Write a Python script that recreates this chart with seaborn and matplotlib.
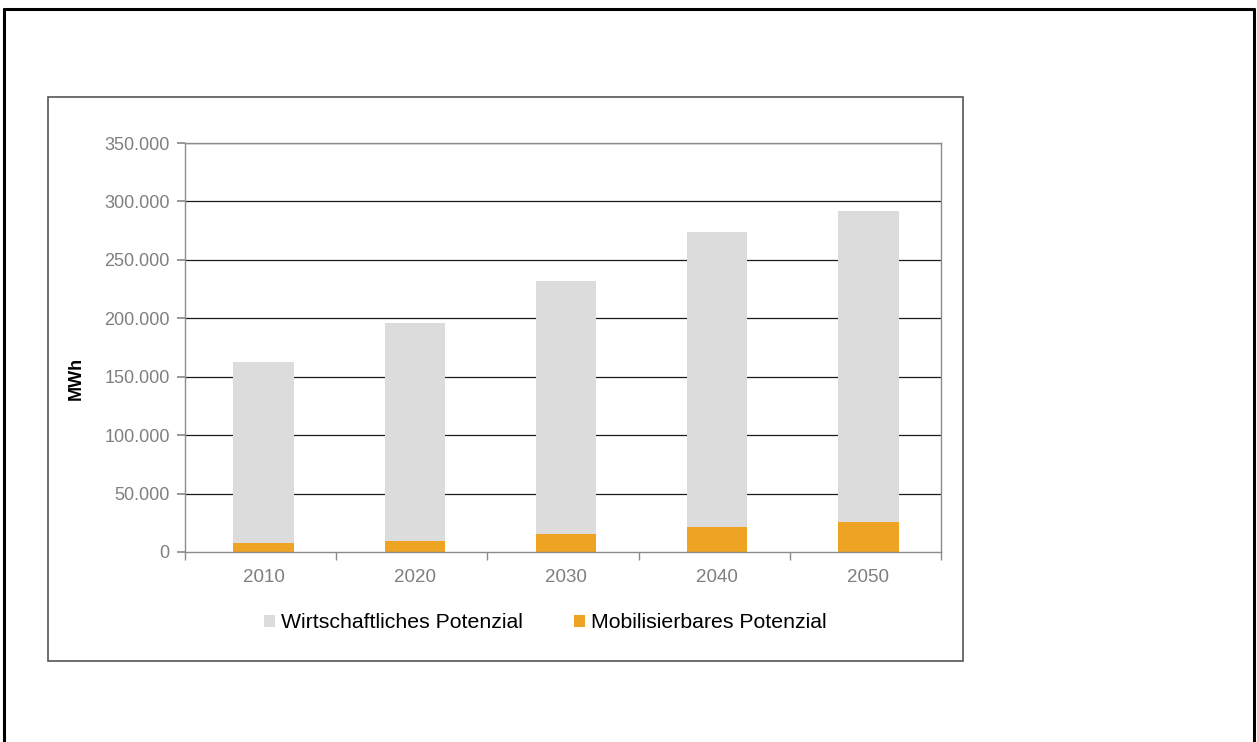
import matplotlib
matplotlib.use("Agg")
import matplotlib.pyplot as plt
from matplotlib.patches import Patch, Rectangle
from matplotlib.lines import Line2D
from matplotlib.ticker import FuncFormatter, MultipleLocator
import seaborn as sns

years = ["2010", "2020", "2030", "2040", "2050"]
wirtschaftlich = [163000, 196000, 232000, 274000, 292000]
mobilisierbar = [8000, 9700, 15700, 21400, 25700]
series_names = ["Wirtschaftliches Potenzial", "Mobilisierbares Potenzial"]

grey = "#dcdcdc"
orange = "#eea322"

sns.set_theme(style="white")
plt.rcParams["font.family"] = ["Liberation Sans", "DejaVu Sans"]

fig = plt.figure(figsize=(12.57, 7.42), dpi=100)
ax = fig.add_axes([185 / 1257, 1 - 552 / 742, (941 - 185) / 1257, (552 - 143) / 742])

sns.barplot(x=years, y=wirtschaftlich, color=grey, width=0.4, ax=ax, zorder=3,
            saturation=1, linewidth=0, edgecolor="none")
sns.barplot(x=years, y=mobilisierbar, color=orange, width=0.4, ax=ax, zorder=4,
            saturation=1, linewidth=0, edgecolor="none")

ax.set_ylim(0, 350000)
ax.set_xlim(-0.52, len(years) - 0.52)
ax.yaxis.set_major_locator(MultipleLocator(50000))
ax.yaxis.set_major_formatter(FuncFormatter(lambda v, p: f"{int(v):,}".replace(",", ".")))

for y in range(50000, 350001, 50000):
    ax.axhline(y, color="#1a1a1a", lw=0.9, zorder=1)

for side in ["left", "right", "top", "bottom"]:
    ax.spines[side].set_visible(True)
    ax.spines[side].set_color("#8c8c8c")
    ax.spines[side].set_linewidth(1.0)
    ax.spines[side].set_zorder(5)

ax.tick_params(axis="y", which="major", left=True, direction="out", length=6,
               color="#8c8c8c", labelsize=13, labelcolor="#7f7f7f", pad=5)
ax.tick_params(axis="x", which="major", bottom=False, labelsize=13.5,
               labelcolor="#7f7f7f", pad=6)
# category separator ticks on the x axis
ax.set_xticks([i - 0.52 for i in range(len(years) + 1)], minor=True)
ax.tick_params(axis="x", which="minor", bottom=True, direction="out", length=6,
               color="#8c8c8c", width=1.0)

ax.set_xlabel("")
ax.set_ylabel("MWh", fontsize=13, fontweight="bold", color="black")
ax.yaxis.set_label_coords((85 - 185) / (941 - 185), (552 - 378) / (552 - 143))

handles = [Patch(facecolor=grey, edgecolor="none"),
           Patch(facecolor=orange, edgecolor="none")]
fig.legend(handles, series_names, loc="center", bbox_to_anchor=(545 / 1257, 1 - 623 / 742),
           ncol=2, frameon=False, fontsize=15.3, handlelength=0.55, handleheight=0.55,
           handletextpad=0.25, columnspacing=2.4, labelcolor="black")

# chart box
fig.patches.append(Rectangle((48 / 1257, 1 - 661 / 742), (963 - 48) / 1257, (661 - 97) / 742,
                             transform=fig.transFigure, fill=False,
                             edgecolor="#555555", lw=1.2))
# outer page frame
fx0, fx1, fy = 4 / 1257, 1254 / 1257, 1 - 9 / 742
for xs, ys in [((fx0, fx1), (fy, fy)), ((fx0, fx0), (0, fy)), ((fx1, fx1), (0, fy))]:
    fig.lines.append(Line2D(xs, ys, transform=fig.transFigure, color="black", lw=2.2))

fig.savefig("out.png", dpi=100, facecolor="white")
